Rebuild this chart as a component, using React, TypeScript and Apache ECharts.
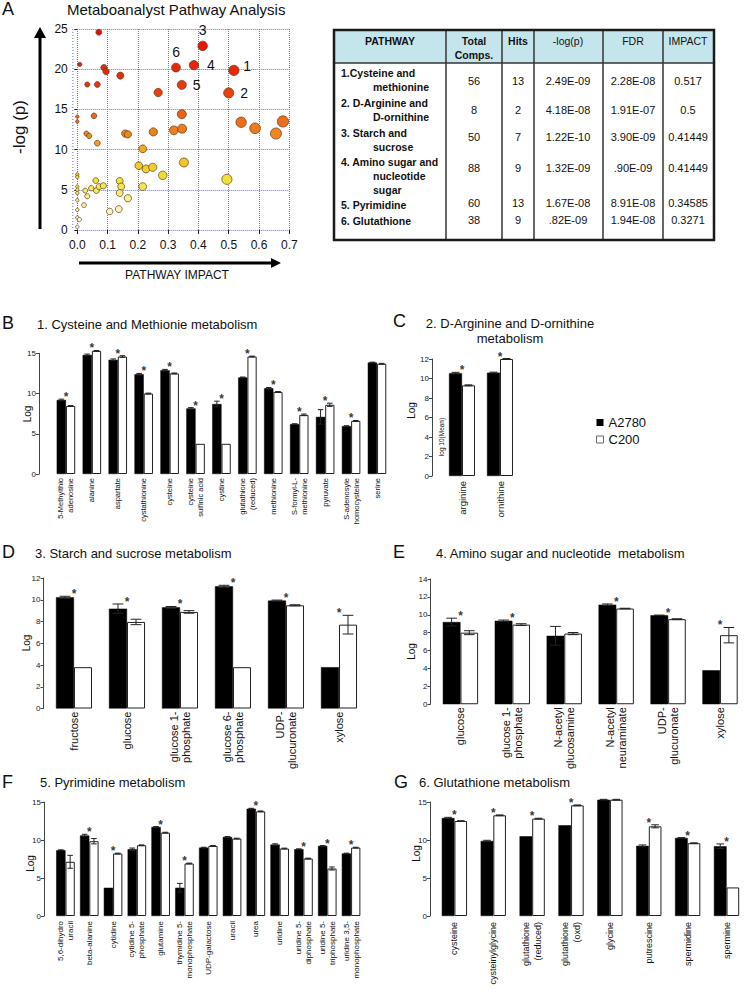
import React, { useEffect, useRef } from 'react';
import * as echarts from 'echarts';

const FONT = '"Liberation Sans", Arial, Helvetica, sans-serif';

// ---------- Panel A: pathway analysis (impact, -log p) ----------
const pathwayImpact = [
  0.071, 0.008, 0.088, 0.095, 0.142, 0.033, 0.066, 0.055, 0.0, 0.0,
  0.030, 0.039, 0.158, 0.167, 0.066, 0.216, 0.203, 0.227, 0.249, 0.282,
  0.216, 0.352, 0.494, 0.0, 0.0, 0.061, 0.0, 0.0, 0.0, 0.026,
  0.033, 0.046, 0.063, 0.072, 0.086, 0.140, 0.145, 0.140, 0.167, 0.022,
  0.0, 0.0, 0.0, 0.007, 0.0, 0.107, 0.137, 0.267, 0.345, 0.251,
  0.319, 0.346, 0.541, 0.587, 0.656, 0.679, 0.517, 0.500, 0.414, 0.385,
  0.345, 0.326,
];
const pathwayNegLogP = [
  24.6, 20.6, 20.2, 19.7, 19.2, 18.1, 18.1, 14.2, 14.1, 13.5,
  12.0, 11.7, 12.0, 11.9, 10.8, 10.1, 8.0, 7.6, 7.8, 6.8,
  5.4, 8.4, 6.3, 6.9, 6.6, 6.15, 5.4, 5.0, 4.6, 4.9,
  4.2, 5.2, 4.9, 5.4, 5.5, 6.1, 5.4, 4.6, 3.95, 3.1,
  3.7, 2.5, 1.55, 1.3, 0.4, 2.3, 2.6, 17.1, 14.4, 12.2,
  12.4, 12.6, 13.4, 12.65, 12.0, 13.5, 19.85, 17.05, 22.9, 20.5,
  18.05, 20.2,
];
const pathwayTags = [
  '', '', '', '', '', '', '', '', '', '', '', '', '', '', '', '', '', '', '', '',
  '', '', '', '', '', '', '', '', '', '', '', '', '', '', '', '', '', '', '', '',
  '', '', '', '', '', '', '', '', '', '', '', '', '', '', '', '', '1', '2', '3', '4',
  '5', '6',
];
const xTicks = [0, 0.1, 0.2, 0.3, 0.4, 0.5, 0.6, 0.7];

// ---------- Table ----------
const tableHeaders = ['PATHWAY', 'Total\nComps.', 'Hits', '-log(p)', 'FDR', 'IMPACT'];
const pathwayNames = [
  ['1.Cysteine and', 'methionine'],
  ['2. D-Arginine and', 'D-ornithine'],
  ['3. Starch and', 'sucrose'],
  ['4. Amino sugar and', 'nucleotide', 'sugar'],
  ['5. Pyrimidine'],
  ['6. Glutathione'],
];
const totalComps = ['56', '8', '50', '88', '60', '38'];
const hitsCol = ['13', '2', '7', '9', '13', '9'];
const logpCol = ['2.49E-09', '4.18E-08', '1.22E-10', '1.32E-09', '1.67E-08', '.82E-09'];
const fdrCol = ['2.28E-08', '1.91E-07', '3.90E-09', '.90E-09', '8.91E-08', '1.94E-08'];
const impactCol = ['0.517', '0.5', '0.41449', '0.41449', '0.34585', '0.3271'];

// ---------- B: Cysteine and methionine ----------
const cysMetCategories = ['5-Methylthio\nadenosine', 'alanine', 'aspartate', 'cystathionine', 'cysteine', 'cysteine\nsulfinic acid', 'cystine', 'glutathione\n(reduced)', 'methionine', 'S-formyl-L-\nmethionine', 'pyruvate', 'S-adenosyle\nhomocysteine', 'serine'];
const cysMetA2780 = [9.2, 14.8, 14.2, 12.4, 12.9, 8.15, 8.7, 12.0, 10.65, 6.2, 7.1, 5.95, 13.85];
const cysMetC200 = [8.45, 15.3, 14.6, 10.0, 12.5, 3.75, 3.75, 14.6, 10.2, 7.35, 8.6, 6.6, 13.7];
const cysMetA2780Err = [0.1, 0.1, 0.1, 0.1, 0.1, 0.1, 0.35, 0.05, 0.1, 0.05, 0.9, 0.05, 0.05];
const cysMetC200Err = [0.05, 0.05, 0.1, 0.05, 0.05, 0, 0, 0.05, 0.05, 0.1, 0.2, 0.05, 0.05];
const cysMetSig = [1, 1, 1, 1, 1, 1, 1, 1, 1, 1, 1, 1, 0];

// ---------- C: D-Arginine and D-ornithine ----------
const argCategories = ['arginine', 'ornithine'];
const argA2780 = [10.55, 10.6];
const argC200 = [9.3, 12.0];
const argA2780Err = [0.08, 0.05];
const argC200Err = [0.05, 0.05];
const argSig = [1, 1];

// ---------- D: Starch and sucrose ----------
const starchCategories = ['fructose', 'glucose', 'glucose 1-\nphosphate', 'glucose 6-\nphosphate', 'UDP-\nglucuronate', 'xylose'];
const starchA2780 = [10.22, 9.18, 9.3, 11.23, 9.92, 3.8];
const starchC200 = [3.8, 7.96, 8.88, 3.8, 9.49, 7.71];
const starchA2780Err = [0.1, 0.43, 0.08, 0.1, 0.05, 0];
const starchC200Err = [0, 0.25, 0.12, 0, 0.05, 0.86];
const starchSig = [1, 1, 1, 1, 1, 1];

// ---------- E: Amino sugar and nucleotide ----------
const aminoCategories = ['glucose', 'glucose 1-\nphosphate', 'N-acetyl\nglucosamine', 'N-acetyl\nneuraminate', 'UDP-\nglucuronate', 'xylose'];
const aminoA2780 = [9.19, 9.33, 7.65, 11.13, 9.94, 3.8];
const aminoC200 = [8.0, 8.9, 7.9, 10.7, 9.51, 7.72];
const aminoA2780Err = [0.43, 0.08, 1.05, 0.08, 0.03, 0];
const aminoC200Err = [0.22, 0.1, 0.12, 0.03, 0.05, 0.86];
const aminoSig = [1, 1, 0, 1, 1, 1];

// ---------- F: Pyrimidine ----------
const pyrCategories = ['5,6-dihydro\nuracil', 'beta-alanine', 'cytidine', 'cytidine 5-\nphosphate', 'glutamine', 'thymidine 5-\nmonophosphate', 'UDP-galactose', 'uracil', 'urea', 'uridine', 'uridine 5-\ndiphosphate', 'uridine 5-\ntriphosphate', 'uridine 3,5-\nmonophosphate'];
const pyrA2780 = [8.66, 10.6, 3.72, 8.79, 11.72, 3.72, 9.0, 10.4, 14.12, 9.4, 8.79, 9.22, 8.22];
const pyrC200 = [7.13, 9.84, 8.22, 9.31, 10.97, 6.91, 9.22, 10.19, 13.77, 8.88, 7.56, 6.25, 9.0];
const pyrA2780Err = [0.05, 0.15, 0, 0.15, 0.05, 0.57, 0.05, 0.05, 0.05, 0.1, 0.05, 0.05, 0.05];
const pyrC200Err = [0.85, 0.35, 0.05, 0.05, 0.05, 0.05, 0.05, 0.05, 0.05, 0.05, 0.05, 0.2, 0.05];
const pyrSig = [0, 1, 1, 0, 1, 1, 0, 0, 1, 0, 1, 1, 1];

// ---------- G: Glutathione ----------
const gshCategories = ['cysteine', 'cysteinylglycine', 'glutathione\n(reduced)', 'glutathione\n(oxd)', 'glycine', 'putrescine', 'spermidine', 'spermine'];
const gshA2780 = [12.9, 9.88, 10.49, 11.94, 15.3, 9.23, 10.27, 9.18];
const gshC200 = [12.5, 13.25, 12.81, 14.56, 15.3, 11.8, 9.58, 3.76];
const gshA2780Err = [0.08, 0.08, 0, 0, 0.05, 0.12, 0.05, 0.3];
const gshC200Err = [0.03, 0.05, 0.05, 0.05, 0.05, 0.2, 0.05, 0];
const gshSig = [1, 1, 1, 1, 0, 1, 1, 1];

// ---------- helpers ----------
function txt(x: number, y: number, text: string, size: number, opts: any = {}) {
  const align = opts.align || 'left';
  return {
    type: 'text',
    x, y,
    rotation: opts.rotation || 0,
    z: 10,
    style: {
      text,
      fontSize: size,
      fontFamily: FONT,
      fontWeight: opts.bold ? 'bold' : 'normal',
      fill: opts.color || '#111',
      align,
      verticalAlign: 'middle',
      lineHeight: opts.lineHeight,
    },
  };
}

function makeRender(gapFrac: number) {
  return (params: any, api: any) => {
    const i = api.value(0);
    const band = api.size([1, 0])[0];
    const bw = (band * (1 - gapFrac)) / 2;
    const cx = api.coord([i, 0])[0];
    const children: any[] = [];
    const err = (x: number, v: number, e: number) => {
      if (!e) return;
      const yt = api.coord([i, v + e])[1];
      const yb = api.coord([i, v - e])[1];
      const cap = bw * 0.3;
      const st = { stroke: '#222', lineWidth: 1 };
      children.push({ type: 'line', shape: { x1: x, y1: yt, x2: x, y2: yb }, style: st });
      children.push({ type: 'line', shape: { x1: x - cap, y1: yt, x2: x + cap, y2: yt }, style: st });
      children.push({ type: 'line', shape: { x1: x - cap, y1: yb, x2: x + cap, y2: yb }, style: st });
    };
    err(cx - bw / 2, api.value(1), api.value(2));
    err(cx + bw / 2, api.value(3), api.value(4));
    return { type: 'group', children };
  };
}

function barParts(idx: number, d: any, L: any) {
  const grid = { left: L.left, top: L.top, width: L.width, height: L.height };
  const xAxis = {
    type: 'category', gridIndex: idx, data: d.categories,
    axisLine: { show: false }, axisTick: { show: false },
    axisLabel: { rotate: 90, interval: 0, fontSize: L.labelSize, lineHeight: L.labelLH, margin: L.labelMargin, color: '#111', fontFamily: FONT },
  };
  const yAxis = {
    type: 'value', gridIndex: idx, min: 0, max: L.yMax, interval: L.yInterval, offset: L.offset,
    axisLine: { show: true, lineStyle: { color: '#444', width: 1 } },
    axisTick: { show: true, length: 3, lineStyle: { color: '#444' } },
    axisLabel: { fontSize: 8, margin: 3, color: '#222', fontFamily: FONT },
    splitLine: { show: false },
  };
  const gapStr = Math.round(L.gap * 1000) / 10 + '%';
  const sigPoints: any[] = [];
  d.categories.forEach((_: any, i: number) => {
    if (d.sig[i]) sigPoints.push([i, Math.max(d.a[i] + d.aErr[i], d.c[i] + d.cErr[i])]);
  });
  const series = [
    { type: 'bar', name: 'A2780', xAxisIndex: idx, yAxisIndex: idx, data: d.a, barGap: '0%', barCategoryGap: gapStr, clip: false, silent: true, itemStyle: { color: '#000', borderColor: '#000', borderWidth: 0.5 } },
    { type: 'bar', name: 'C200', xAxisIndex: idx, yAxisIndex: idx, data: d.c, barGap: '0%', barCategoryGap: gapStr, clip: false, silent: true, itemStyle: { color: '#fff', borderColor: '#222', borderWidth: 1 } },
    {
      type: 'custom', xAxisIndex: idx, yAxisIndex: idx, clip: false, z: 5, silent: true,
      encode: { x: 0, y: 1 },
      data: d.categories.map((_: any, i: number) => [i, d.a[i], d.aErr[i], d.c[i], d.cErr[i]]),
      renderItem: makeRender(L.gap),
    },
    {
      type: 'scatter', xAxisIndex: idx, yAxisIndex: idx, clip: false, z: 6, silent: true,
      data: sigPoints, symbolSize: 0, itemStyle: { color: '#000' },
      label: { show: true, formatter: '*', position: 'top', distance: 0, offset: [0, 4], fontSize: 12, fontWeight: 'bold', color: '#000', fontFamily: FONT },
    },
  ];
  return { grid, xAxis, yAxis, series };
}

function combine(parts: any[], graphic: any[], extra: any = {}) {
  return {
    animation: false,
    textStyle: { fontFamily: FONT },
    grid: parts.map((p) => p.grid),
    xAxis: parts.map((p) => p.xAxis),
    yAxis: parts.map((p) => p.yAxis),
    series: parts.flatMap((p) => p.series),
    graphic,
    ...extra,
  };
}

// ---------- Chart 1: scatter + table ----------
function optionA() {
  const tagLabel: any = {
    '1': { position: 'right', distance: 4, offset: [0, -4] },
    '2': { position: 'right', distance: 6 },
    '3': { position: 'top', distance: 4 },
    '4': { position: 'right', distance: 8 },
    '5': { position: 'right', distance: 6 },
    '6': { position: 'top', distance: 4 },
  };
  const data = pathwayImpact.map((x, i) => {
    const tag = pathwayTags[i];
    const item: any = { value: [x, pathwayNegLogP[i]] };
    if (tag) item.label = { show: true, formatter: tag, fontSize: 14, color: '#111', fontFamily: FONT, ...tagLabel[tag] };
    return item;
  });
  const G: any[] = [];
  G.push(txt(2, 9, 'A', 18));
  G.push(txt(67, 9, 'Metaboanalyst Pathway Analysis', 15));
  G.push({ type: 'line', shape: { x1: 72.8, y1: 29, x2: 72.8, y2: 230 }, style: { stroke: '#6f6fe0', lineWidth: 1, lineDash: [1, 2] } });
  G.push({ type: 'rect', shape: { x: 38.5, y: 36, width: 3, height: 193 }, style: { fill: '#000' } });
  G.push({ type: 'polygon', shape: { points: [[34, 38], [46, 38], [40, 27]] }, style: { fill: '#000' } });
  G.push(txt(19, 127, '-log (p)', 17, { rotation: Math.PI / 2, align: 'center' }));
  G.push({ type: 'rect', shape: { x: 79, y: 261.5, width: 194, height: 3 }, style: { fill: '#000' } });
  G.push({ type: 'polygon', shape: { points: [[271, 258], [271, 268], [281, 263]] }, style: { fill: '#000' } });
  G.push(txt(177, 275, 'PATHWAY IMPACT', 12, { align: 'center' }));

  // table
  const tx = 334, ty = 30, tw = 380, th = 210, hh = 33;
  G.push({ type: 'rect', shape: { x: tx, y: ty, width: tw, height: hh }, style: { fill: '#c5e5ec' } });
  const colLines = [446, 502, 534, 603, 663];
  colLines.forEach((x) => G.push({ type: 'line', shape: { x1: x, y1: ty, x2: x, y2: ty + th }, style: { stroke: '#333', lineWidth: 1.5 } }));
  G.push({ type: 'line', shape: { x1: tx, y1: ty + hh, x2: tx + tw, y2: ty + hh }, style: { stroke: '#333', lineWidth: 1.5 } });
  G.push({ type: 'rect', shape: { x: tx, y: ty, width: tw, height: th }, style: { fill: 'none', stroke: '#1a1a1a', lineWidth: 2.5 } });
  const colCenters = [390, 474, 518, 568, 633, 688];
  const headBold = [true, true, true, false, false, false];
  tableHeaders.forEach((h, j) => {
    const lines = h.split('\n');
    lines.forEach((ln, k) => G.push(txt(colCenters[j], 41 + k * 14, ln, 10.5, { align: 'center', bold: headBold[j] })));
  });
  const nameY = [73, 103, 133, 162, 205, 221];
  const numY = [81, 110, 137, 168, 203, 220];
  pathwayNames.forEach((lines, r) => {
    lines.forEach((ln, k) => G.push(txt(k === 0 ? 341 : 373, nameY[r] + k * 14, ln, 10.5, { bold: true })));
  });
  const cols = [totalComps, hitsCol, logpCol, fdrCol, impactCol];
  cols.forEach((col, j) => {
    col.forEach((v, r) => G.push(txt(colCenters[j + 1], numY[r], v, 11, { align: 'center' })));
  });

  return {
    animation: false,
    textStyle: { fontFamily: FONT },
    grid: { left: 77.3, top: 29, width: 212, height: 201 },
    xAxis: {
      type: 'value', min: xTicks[0], max: xTicks[xTicks.length - 1], interval: 0.1,
      axisLine: { show: false },
      axisTick: { show: true, length: 4, lineStyle: { color: '#222' } },
      axisLabel: { fontSize: 12, margin: 9, color: '#111', formatter: (v: number) => v.toFixed(1) },
      splitLine: { show: true, lineStyle: { type: 'dotted', color: '#6f6fe0', width: 1 } },
    },
    yAxis: {
      type: 'value', min: 0, max: 25, interval: 5, offset: 4.5,
      axisLine: { show: false },
      axisTick: { show: true, length: 3, lineStyle: { color: '#222' } },
      axisLabel: { fontSize: 12, margin: 5, color: '#111' },
      splitLine: { show: true, lineStyle: { type: 'dotted', color: '#6f6fe0', width: 1 } },
    },
    visualMap: {
      show: false, type: 'continuous', dimension: 1, seriesIndex: 0, min: 0, max: 25,
      inRange: { color: ['#fbfbf2', '#f7f3b0', '#f2e234', '#f2b822', '#f07c1c', '#eb4e12', '#e8300c', '#e81a08', '#e60c06'] },
    },
    series: [{
      type: 'scatter', data,
      symbolSize: (v: number[]) => 3.4 + 9.5 * Math.sqrt(v[0]),
      itemStyle: { borderColor: '#5b3b1b', borderWidth: 0.7, opacity: 1 },
      label: { show: false },
      silent: true,
    }],
    graphic: G,
  };
}

// ---------- Chart 2: B + C ----------
function optionBC() {
  const B = barParts(0, { categories: cysMetCategories, a: cysMetA2780, c: cysMetC200, aErr: cysMetA2780Err, cErr: cysMetC200Err, sig: cysMetSig },
    { left: 53, top: 53.3, width: 337, height: 120.7, yMax: 15, yInterval: 5, offset: 14, gap: 0.286, labelSize: 7.5, labelLH: 10, labelMargin: 4 });
  const C = barParts(1, { categories: argCategories, a: argA2780, c: argC200, aErr: argA2780Err, cErr: argC200Err, sig: argSig },
    { left: 443, top: 59, width: 76, height: 117, yMax: 12, yInterval: 2, offset: 11, gap: 0.316, labelSize: 9.5, labelLH: 11, labelMargin: 5 });
  const G = [
    txt(2, 22.7, 'B', 18),
    txt(37, 24.5, '1. Cysteine and Methionie metabolism', 13),
    txt(27, 114, 'Log', 10, { rotation: Math.PI / 2, align: 'center' }),
    txt(393, 20.7, 'C', 18),
    txt(510, 23.5, '2. D-Arginine and D-ornithine', 13, { align: 'center' }),
    txt(510, 38.5, 'metabolism', 13, { align: 'center' }),
    txt(411.7, 110.5, 'Log', 10, { rotation: Math.PI / 2, align: 'center' }),
    txt(441.5, 137, 'log 10(Mean)', 6.5, { rotation: Math.PI / 2, align: 'center' }),
  ];
  return combine([B, C], G, {
    legend: {
      orient: 'vertical', left: 591, top: 111, itemWidth: 7, itemHeight: 7, itemGap: 4, selectedMode: false,
      textStyle: { fontSize: 13, lineHeight: 13, color: '#111', fontFamily: FONT },
      data: [
        { name: 'A2780', icon: 'rect', itemStyle: { color: '#000', borderColor: '#000', borderWidth: 0 } },
        { name: 'C200', icon: 'rect', itemStyle: { color: '#fff', borderColor: '#666', borderWidth: 1 } },
      ],
    },
  });
}

// ---------- Chart 3: D + E (chart top at page y 538) ----------
function optionDE() {
  const D = barParts(0, { categories: starchCategories, a: starchA2780, c: starchC200, aErr: starchA2780Err, cErr: starchC200Err, sig: starchSig },
    { left: 47.5, top: 40, width: 318, height: 131, yMax: 12, yInterval: 2, offset: 4, gap: 0.32, labelSize: 11, labelLH: 12, labelMargin: 3 });
  const E = barParts(1, { categories: aminoCategories, a: aminoA2780, c: aminoC200, aErr: aminoA2780Err, cErr: aminoC200Err, sig: aminoSig },
    { left: 434.5, top: 41, width: 318, height: 130, yMax: 14, yInterval: 2, offset: 4, gap: 0.32, labelSize: 11, labelLH: 12, labelMargin: 3 });
  const G = [
    txt(2, 13.7, 'D', 18),
    txt(35, 15.5, '3. Starch and sucrose metabolism', 13),
    txt(26, 105, 'Log', 10, { rotation: Math.PI / 2, align: 'center' }),
    txt(393, 13.7, 'E', 18),
    txt(436, 15.5, '4. Amino sugar and nucleotide  metabolism', 13),
    txt(411.7, 113.5, 'Log', 10, { rotation: Math.PI / 2, align: 'center' }),
  ];
  return combine([D, E], G);
}

// ---------- Chart 4: F + G ----------
function optionFG() {
  const F = barParts(0, { categories: pyrCategories, a: pyrA2780, c: pyrC200, aErr: pyrA2780Err, cErr: pyrC200Err, sig: pyrSig },
    { left: 53.6, top: 30, width: 309.4, height: 114, yMax: 15, yInterval: 5, offset: 9.6, gap: 0.22, labelSize: 8, labelLH: 10, labelMargin: 5 });
  const Gp = barParts(1, { categories: gshCategories, a: gshA2780, c: gshC200, aErr: gshA2780Err, cErr: gshC200Err, sig: gshSig },
    { left: 435, top: 30, width: 314.4, height: 114, yMax: 15, yInterval: 5, offset: 5, gap: 0.35, labelSize: 9, labelLH: 11.5, labelMargin: 6 });
  const G = [
    txt(2, 9.7, 'F', 18),
    txt(40, 10.5, '5. Pyrimidine metabolism', 13),
    txt(30, 91.5, 'Log', 10, { rotation: Math.PI / 2, align: 'center' }),
    txt(394, 9.7, 'G', 18),
    txt(419, 10.5, '6. Glutathione metabolism', 13),
    txt(416, 81.5, 'Log', 10, { rotation: Math.PI / 2, align: 'center' }),
  ];
  return combine([F, Gp], G);
}

function Chart({ top, height, build }: { top: number; height: number; build: () => any }) {
  const ref = useRef<HTMLDivElement>(null);
  useEffect(() => {
    if (!ref.current) return;
    const chart = echarts.init(ref.current, null, { renderer: 'svg' });
    chart.setOption(build());
    return () => chart.dispose();
  }, []);
  return <div ref={ref} style={{ position: 'absolute', left: 0, top, width: 746, height, overflow: 'hidden' }} />;
}

export default function App() {
  return (
    <div style={{ position: 'absolute', left: 0, top: 0, width: 746, height: 992, background: '#fff', overflow: 'hidden' }}>
      <Chart top={0} height={300} build={optionA} />
      <Chart top={300} height={238} build={optionBC} />
      <Chart top={538} height={234} build={optionDE} />
      <Chart top={772} height={220} build={optionFG} />
    </div>
  );
}
